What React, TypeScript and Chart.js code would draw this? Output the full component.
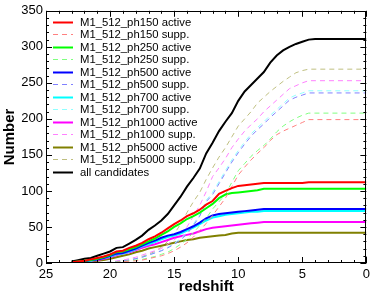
import React, { useEffect, useRef } from 'react';
import { Chart, registerables } from 'chart.js';

Chart.register(...registerables);

// redshift grid shared by all series
const redshift = [23, 22.5, 22, 21.5, 21, 20.5, 20, 19.5, 19, 18.5, 18, 17.5, 17, 16.5, 16, 15.5, 15, 14.5, 14, 13.5, 13, 12.5, 12, 11.5, 11, 10.5, 10, 9.5, 9, 8.5, 8, 7.5, 7, 6.5, 6, 5.5, 5, 4.5, 4, 0];

const ph150Active = [1, 2, 3, 5, 7, 9, 12, 16, 17, 21, 24, 28, 33, 37, 42, 48, 54, 59, 65, 69, 74, 81, 86, 96, 100, 104, 107, 108, 109, 110, 111, 111, 111, 111, 111, 111, 111, 112, 112, 112];
const ph150Supp = [null, null, null, null, 0, 0.2, 0.5, 1, 2, 2.5, 3, 4, 6, 8, 10, 13, 17, 22, 28, 36, 45, 55, 66, 78, 90, 106, 122, 133, 143, 152, 160, 170, 178, 183, 187, 191, 195, 199, 199, 199];
const ph250Active = [1, 2, 3, 4, 6, 8, 11, 15, 16, 19, 22, 26, 30, 34, 39, 44, 50, 55, 61, 65, 70, 76, 82, 90, 95, 97, 98, 99, 100, 101, 103, 103, 103, 103, 103, 103, 103, 103, 103, 103];
const ph250Supp = [null, null, null, null, 0, 0.3, 1, 1.5, 2, 3, 4, 5, 7, 9, 12, 15, 20, 26, 33, 42, 52, 62, 75, 85, 95, 112, 128, 138, 148, 156, 163, 172, 182, 190, 196, 201, 205, 208, 208, 208];
const ph500Active = [1, 1, 2, 4, 5, 7, 10, 13, 14, 17, 20, 24, 28, 31, 35, 38, 40, 43, 47, 51, 56, 62, 66, 68, 69, 70, 71, 72, 73, 74, 75, 75, 75, 75, 75, 75, 75, 75, 75, 75];
const ph500Supp = [null, null, null, null, 0, 0.5, 1, 2, 3, 4, 6, 8, 11, 14, 17, 21, 26, 32, 40, 52, 65, 85, 95, 110, 125, 140, 153, 165, 176, 185, 193, 202, 210, 218, 226, 230, 233, 236, 236, 236];
const ph700Active = [1, 1, 2, 3, 5, 7, 9, 12, 13, 16, 19, 23, 26, 29, 33, 36, 38, 41, 45, 49, 54, 59, 63, 65, 67, 68, 69, 70, 71, 71, 72, 72, 72, 72, 72, 72, 72, 72, 72, 72];
const ph700Supp = [null, null, null, null, 0, 0.5, 1, 2, 3, 4, 6, 8, 11, 14, 17, 22, 27, 34, 42, 54, 67, 87, 98, 113, 128, 143, 156, 168, 179, 188, 196, 205, 213, 221, 229, 233, 236, 239, 239, 239];
const ph1000Active = [1, 1, 2, 3, 4, 6, 8, 11, 13, 15, 18, 21, 24, 26, 29, 32, 35, 37, 39, 41, 44, 47, 49, 50, 51, 52, 53, 54, 55, 56, 57, 57, 57, 57, 57, 57, 57, 57, 57, 57];
const ph1000Supp = [null, null, null, null, 0, 0.5, 1, 3, 4, 6, 8, 11, 14, 17, 20, 26, 32, 40, 50, 65, 80, 99, 120, 132, 145, 160, 172, 183, 192, 200, 210, 218, 226, 234, 242, 246, 250, 253, 253, 253];
const ph5000Active = [1, 1, 2, 2, 3, 4, 6, 8, 10, 12, 15, 17, 20, 22, 24, 26, 28, 30, 32, 33, 35, 36, 37, 38, 39, 41, 42, 42, 42, 42, 42, 42, 42, 42, 42, 42, 42, 42, 42, 42];
const ph5000Supp = [null, null, null, null, 0, 0.5, 1, 2, 3, 4, 6, 9, 12, 16, 22, 30, 40, 54, 70, 85, 98, 116, 132, 147, 160, 175, 190, 200, 210, 222, 230, 238, 245, 252, 258, 264, 267, 269, 269, 269];
const allCandidates = [2, 4, 6, 7, 10, 13, 16, 21, 22, 27, 32, 38, 46, 52, 59, 68, 80, 92, 106, 118, 131, 152, 167, 183, 196, 208, 225, 238, 247, 256, 265, 278, 288, 295, 300, 304, 307, 310, 311, 311];

const seriesLabels = [
  'M1_512_ph150 active', 'M1_512_ph150 supp.',
  'M1_512_ph250 active', 'M1_512_ph250 supp.',
  'M1_512_ph500 active', 'M1_512_ph500 supp.',
  'M1_512_ph700 active', 'M1_512_ph700 supp.',
  'M1_512_ph1000 active', 'M1_512_ph1000 supp.',
  'M1_512_ph5000 active', 'M1_512_ph5000 supp.',
  'all candidates',
];
const seriesValues = [
  ph150Active, ph150Supp, ph250Active, ph250Supp, ph500Active, ph500Supp,
  ph700Active, ph700Supp, ph1000Active, ph1000Supp, ph5000Active, ph5000Supp, allCandidates,
];
const seriesColors = [
  '#ff0000', '#ff8080', '#00ff00', '#80ff80', '#0000ff', '#8080ff',
  '#00ffff', '#90ffff', '#ff00ff', '#ff80ff', '#808000', '#bfbf80', '#000000',
];
const seriesDashed = [false, true, false, true, false, true, false, true, false, true, false, true, false];

const xTickValues = [25, 20, 15, 10, 5, 0];
const yTickValues = [0, 50, 100, 150, 200, 250, 300, 350];

const FONT = '"Liberation Sans", Arial, Helvetica, sans-serif';

const framePlugin = {
  id: 'frameTicks',
  afterDatasetsDraw(chart: any) {
    const { ctx, chartArea } = chart;
    const { left, right, top, bottom } = chartArea;
    const xs = chart.scales.x;
    const ys = chart.scales.y;
    ctx.save();
    ctx.strokeStyle = '#000';
    ctx.lineWidth = 1;
    ctx.setLineDash([]);
    ctx.strokeRect(Math.round(left) + 0.5, Math.round(top) + 0.5, Math.round(right - left) - 1, Math.round(bottom - top) - 1);
    ctx.beginPath();
    for (let v = 0; v <= 25; v += 1) {
      const len = v % 5 === 0 ? 6 : 3;
      const px = Math.round(xs.getPixelForValue(v)) + 0.5;
      ctx.moveTo(px, bottom);
      ctx.lineTo(px, bottom - len);
      ctx.moveTo(px, top);
      ctx.lineTo(px, top + len);
    }
    for (let v = 0; v <= 350; v += 10) {
      const len = v % 50 === 0 ? 6 : 3;
      const py = Math.round(ys.getPixelForValue(v)) + 0.5;
      ctx.moveTo(left, py);
      ctx.lineTo(left + len, py);
      ctx.moveTo(right, py);
      ctx.lineTo(right - len, py);
    }
    ctx.stroke();
    ctx.restore();
  },
};

const legendPlugin = {
  id: 'insideLegend',
  afterDatasetsDraw(chart: any) {
    const { ctx, chartArea } = chart;
    const { left, top } = chartArea;
    ctx.save();
    ctx.font = `11.3px ${FONT}`;
    ctx.textBaseline = 'middle';
    ctx.textAlign = 'left';
    chart.data.datasets.forEach((ds: any, i: number) => {
      const y = Math.round(top + 11 + i * 12.5) + 0.5;
      ctx.strokeStyle = ds.borderColor;
      ctx.lineWidth = ds.borderWidth;
      ctx.setLineDash(ds.borderDash || []);
      ctx.beginPath();
      ctx.moveTo(left + 7, y);
      ctx.lineTo(left + 27, y);
      ctx.stroke();
      ctx.setLineDash([]);
      ctx.fillStyle = '#000';
      ctx.fillText(ds.label, left + 34, y + 0.5);
    });
    ctx.restore();
  },
};

export default function App() {
  const canvasRef = useRef<HTMLCanvasElement | null>(null);

  useEffect(() => {
    document.body.style.margin = '0';
    const canvas = canvasRef.current;
    if (!canvas) return;
    const datasets = seriesLabels.map((label, i) => ({
      label,
      data: redshift.map((z, j) => ({ x: z, y: seriesValues[i][j] })),
      borderColor: seriesColors[i],
      backgroundColor: seriesColors[i],
      borderWidth: seriesDashed[i] ? 1 : 2,
      borderDash: seriesDashed[i] ? [5, 4] : [],
      pointRadius: 0,
      tension: 0,
      fill: false,
      spanGaps: false,
    }));
    const chart = new Chart(canvas, {
      type: 'line',
      data: { datasets },
      options: {
        animation: false,
        responsive: false,
        maintainAspectRatio: false,
        layout: { padding: { top: 10, right: 7, left: 0, bottom: 0 } },
        plugins: { legend: { display: false }, tooltip: { enabled: false } },
        scales: {
          x: {
            type: 'linear',
            min: 0,
            max: 25,
            reverse: true,
            afterFit: (s: any) => { s.height = 33; },
            afterBuildTicks: (s: any) => { s.ticks = xTickValues.map((v) => ({ value: v })); },
            grid: { display: false, drawTicks: false, tickLength: 0 },
            border: { display: false },
            ticks: { font: { family: FONT, size: 13 }, color: '#000', padding: 4, maxRotation: 0 },
            title: { display: true, text: 'redshift', font: { family: FONT, size: 15, weight: 'bold' }, color: '#000', padding: 0 },
          },
          y: {
            type: 'linear',
            min: 0,
            max: 350,
            afterFit: (s: any) => { s.width = 46; },
            afterBuildTicks: (s: any) => { s.ticks = yTickValues.map((v) => ({ value: v })); },
            grid: { display: false, drawTicks: false, tickLength: 0 },
            border: { display: false },
            ticks: { font: { family: FONT, size: 13 }, color: '#000', padding: 3 },
            title: { display: true, text: 'Number', font: { family: FONT, size: 15, weight: 'bold' }, color: '#000', padding: 1 },
          },
        },
      },
      plugins: [framePlugin, legendPlugin],
    });
    return () => chart.destroy();
  }, []);

  return <canvas ref={canvasRef} width={374} height={296} style={{ display: 'block' }} />;
}
